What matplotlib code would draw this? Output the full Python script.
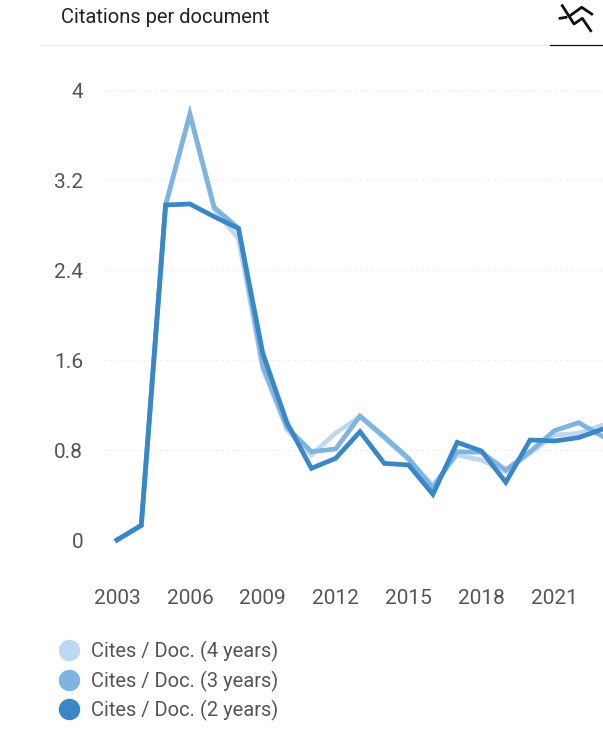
import matplotlib
matplotlib.use('Agg')
from matplotlib import pyplot as plt
from matplotlib.lines import Line2D

W, H = 603, 730

years = list(range(2003, 2024))
cites_4y = [0, 0.13, 2.97, 3.78, 2.94, 2.68, 1.52, 0.98, 0.756, 0.951, 1.096, 0.906, 0.711, 0.489, 0.756, 0.711, 0.607, 0.773, 0.933, 0.948, 1.022]
cites_3y = [0, 0.13, 2.978, 3.787, 2.957, 2.77, 1.55, 1.0, 0.785, 0.809, 1.102, 0.919, 0.726, 0.459, 0.785, 0.779, 0.622, 0.785, 0.972, 1.043, 0.919]
cites_2y = [0, 0.13, 2.978, 2.987, 2.874, 2.77, 1.66, 1.04, 0.637, 0.726, 0.963, 0.681, 0.667, 0.406, 0.868, 0.791, 0.513, 0.889, 0.88, 0.91, 0.987]
series_labels = ['Cites / Doc. (4 years)', 'Cites / Doc. (3 years)', 'Cites / Doc. (2 years)']
series_colors = ['#bdd8f0', '#7fb3e0', '#3a87c8']
y_ticks = [0, 0.8, 1.6, 2.4, 3.2, 4]
y_tick_labels = ['0', '0.8', '1.6', '2.4', '3.2', '4']
x_ticks = [2003, 2006, 2009, 2012, 2015, 2018, 2021]

plt.rcParams['font.family'] = ['Roboto', 'DejaVu Sans']

fig = plt.figure(figsize=(W / 100, H / 100), dpi=100)
ax = fig.add_axes([104 / W, 1 - 540 / H, (W - 104) / W, 450 / H])

for vals, label, color in zip([cites_4y, cites_3y, cites_2y], series_labels, series_colors):
    ax.plot(years, vals, color=color, lw=3.4, label=label, clip_on=False, solid_joinstyle='miter')

ax.set_xlim(2003 - 13 / 24.33, 2023)
ax.set_ylim(0, 4)
ax.set_yticks(y_ticks, y_tick_labels)
ax.set_xticks(x_ticks)
ax.grid(True, axis='y', color='#f0f0f0', lw=1, ls=(0, (2, 2)))
ax.set_axisbelow(True)
ax.tick_params(axis='both', length=0, labelsize=15, labelcolor='#555555')
ax.tick_params(axis='y', pad=15)
ax.tick_params(axis='x', pad=35)
for s in ax.spines.values():
    s.set_visible(False)

handles = [Line2D([], [], marker='o', ls='none', ms=14.4, color=c) for c in series_colors]
fig.legend(handles, series_labels, loc='upper left', bbox_to_anchor=(59 / W, 1 - 641 / H),
           frameon=False, fontsize=14.5, labelcolor='#555555', borderpad=0, borderaxespad=0,
           handletextpad=0.6, handlelength=1.0, labelspacing=0.42)

# header
fig.text(61 / W, 1 - 17.5 / H, 'Citations per document', fontsize=14.5, color='#222222', va='center')
fig.add_artist(Line2D([40 / W, 1], [1 - 44.5 / H] * 2, color='#f2f2f2', lw=0.8))
fig.add_artist(Line2D([550 / W, 1], [1 - 44.5 / H] * 2, color='#111111', lw=0.9))

# chart-type icon in the corner
def icon(xs, ys):
    fig.add_artist(Line2D([x / W for x in xs], [1 - y / H for y in ys], color='#111111', lw=2))

icon([562.3, 574, 582.3, 590.7], [5.7, 24, 18.3, 30.7])
icon([571, 581.7, 591.7], [15, 7.3, 14])
icon([560, 566], [18.3, 17.3])

fig.savefig('out.png', dpi=100)
